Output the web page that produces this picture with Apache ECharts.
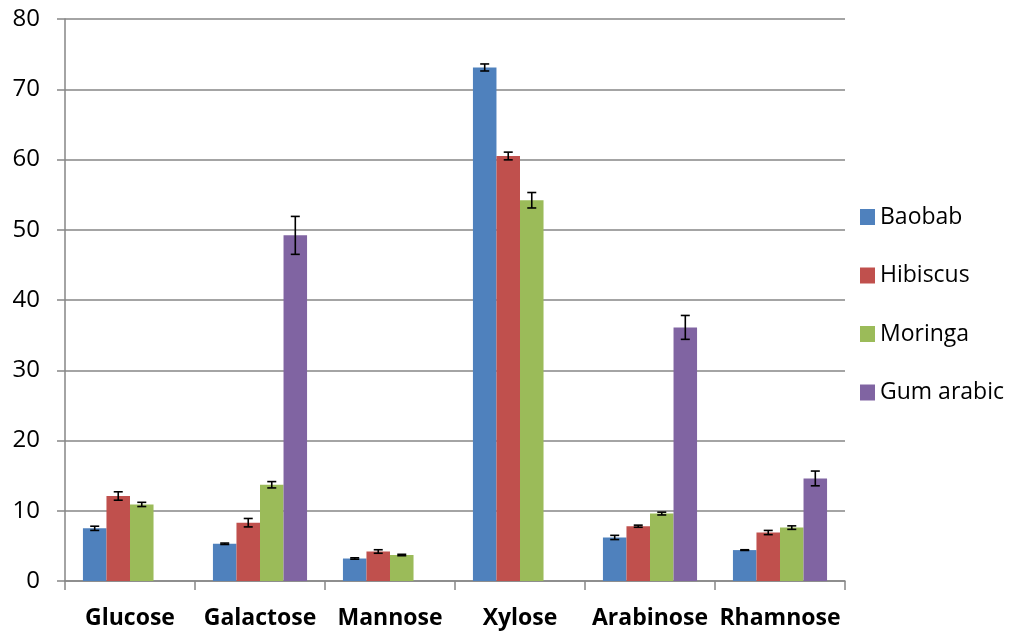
<!DOCTYPE html>
<html>
<head>
<meta charset="utf-8">
<script src="https://cdn.jsdelivr.net/npm/echarts@6/dist/echarts.min.js"></script>
<style>
  html, body { margin: 0; padding: 0; background: #fff; }
  #chart { width: 1015px; height: 633px; }
</style>
</head>
<body>
<div id="chart"></div>
<script>
const categories = ['Glucose', 'Galactose', 'Mannose', 'Xylose', 'Arabinose', 'Rhamnose']
const seriesNames = ['Baobab', 'Hibiscus', 'Moringa', 'Gum arabic']
const baobab = [7.5, 5.3, 3.2, 73.1, 6.2, 4.4]
const hibiscus = [12.1, 8.3, 4.2, 60.5, 7.8, 6.9]
const moringa = [10.9, 13.7, 3.7, 54.2, 9.6, 7.6]
const gumArabic = [0, 49.2, 0, 0, 36.1, 14.6]
const baobabErr = [0.3, 0.1, 0.1, 0.5, 0.3, 0.05]
const hibiscusErr = [0.6, 0.6, 0.25, 0.55, 0.15, 0.3]
const moringaErr = [0.3, 0.45, 0.1, 1.1, 0.2, 0.25]
const gumArabicErr = [0, 2.7, 0, 0, 1.7, 1.05]
const yTicks = [0, 10, 20, 30, 40, 50, 60, 70, 80]

const values = [baobab, hibiscus, moringa, gumArabic]
const errors = [baobabErr, hibiscusErr, moringaErr, gumArabicErr]
const colorList = ['#4F81BD', '#C0504D', '#9BBB59', '#8064A2']
const barRatio = 0.181

const chart = echarts.init(document.getElementById('chart'))

const barSeries = seriesNames.map((name, s) => ({
  name: name,
  type: 'bar',
  data: values[s],
  barWidth: (barRatio * 100) + '%',
  barGap: '0%',
  itemStyle: { color: colorList[s] },
  z: 2
}))

// error bars drawn as I-beams on top of each bar
const errorSeries = seriesNames.map((name, s) => ({
  type: 'custom',
  name: name + ' err',
  data: values[s].map((v, i) => [i, v, errors[s][i]]),
  z: 5,
  renderItem: function (params, api) {
    const i = api.value(0)
    const v = api.value(1)
    const e = api.value(2)
    if (!e) return
    const catW = api.size([1, 0])[0]
    const bw = catW * barRatio
    const top = api.coord([i, v + e])
    const bot = api.coord([i, v - e])
    const x = top[0] + (s - 1.5) * bw
    const cap = 4.5
    const style = { stroke: '#000', lineWidth: 1.6 }
    return {
      type: 'group',
      children: [
        { type: 'line', shape: { x1: x, y1: top[1], x2: x, y2: bot[1] }, style: style },
        { type: 'line', shape: { x1: x - cap, y1: top[1], x2: x + cap, y2: top[1] }, style: style },
        { type: 'line', shape: { x1: x - cap, y1: bot[1], x2: x + cap, y2: bot[1] }, style: style }
      ]
    }
  }
}))

chart.setOption({
  backgroundColor: '#fff',
  animation: false,
  textStyle: { fontFamily: 'Open Sans' },
  legend: {
    data: seriesNames,
    orient: 'vertical',
    left: 855,
    top: 200,
    itemWidth: 15,
    itemHeight: 16,
    itemGap: 34.5,
    icon: 'rect',
    textStyle: { color: '#000', fontSize: 23, lineHeight: 24, fontFamily: 'Open Sans' }
  },
  grid: {
    left: 65,
    right: 170,
    top: 19,
    bottom: 52,
    containLabel: false
  },
  xAxis: {
    type: 'category',
    data: categories,
    axisLine: { lineStyle: { color: '#868686', width: 1.5 } },
    axisTick: { show: true, alignWithLabel: false, length: 9, lineStyle: { color: '#868686', width: 1.5 } },
    axisLabel: {
      color: '#000',
      fontSize: 23,
      fontWeight: 'bold',
      margin: 26,
      interval: 0,
      fontFamily: 'Open Sans'
    }
  },
  yAxis: {
    type: 'value',
    min: yTicks[0],
    max: yTicks[yTicks.length - 1],
    interval: 10,
    axisLine: { show: true, lineStyle: { color: '#868686', width: 1.5 } },
    axisTick: { show: true, inside: false, length: 8, lineStyle: { color: '#868686', width: 1.5 } },
    axisLabel: { color: '#000', fontSize: 24, margin: 25, fontFamily: 'Open Sans' },
    splitLine: { show: true, lineStyle: { color: '#868686', width: 1.5 } }
  },
  series: barSeries.concat(errorSeries)
})
</script>
</body>
</html>
